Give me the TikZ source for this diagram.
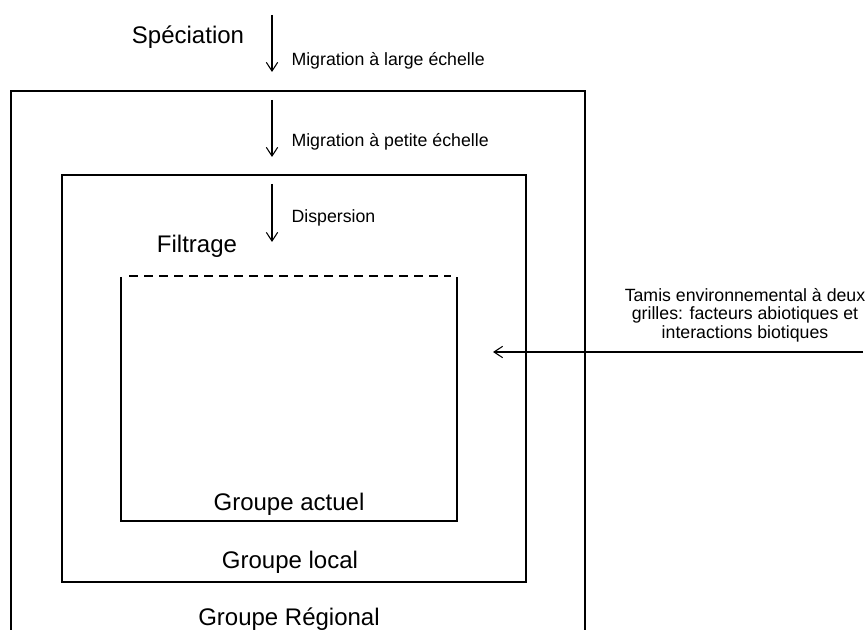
\documentclass[tikz,border=0pt]{standalone}
\usepackage{fontspec}
\setmainfont{Liberation Sans}
\usetikzlibrary{positioning,arrows.meta}

\begin{document}
\begin{tikzpicture}[x=0.75pt,y=-0.75pt,line width=0.8pt,
    flow/.style={-{Straight Barb[length=6.5pt,width=8.5pt]}},
    big/.style={font=\fontsize{18}{21}\selectfont,inner sep=0pt,anchor=base},
    small/.style={font=\fontsize{13.3}{14}\selectfont,inner sep=0pt,anchor=base west}]
      \useasboundingbox (0,0) rectangle (866,630);
      % boxes
      \draw (11,630) -- (11,91) -- (585,91) -- (585,630);
      \draw (62,175) rectangle (526,582);
      \draw (121,277) -- (121,521) -- (457,521) -- (457,277);
      \draw[dash pattern=on 6.5pt off 4.75pt] (129,276) -- (451,276);
      % arrows
      \coordinate (mla) at (272,15);
      \coordinate (mlb) at (272,72);
      \coordinate (mpa) at (272,100);
      \coordinate (mpb) at (272,157);
      \coordinate (dia) at (272,184);
      \coordinate (dib) at (272,242);
      \coordinate (tamR) at (863,352);
      \coordinate (tamL) at (493,352);
      \draw[flow] (mla) -- (mlb);
      \draw[flow] (mpa) -- (mpb);
      \draw[flow] (dia) -- (dib);
      \draw[flow] (tamR) -- (tamL);
      % labels
      \node[big] (spec) at (188,44) {Spéciation};
      \node[small] (mlarge) at (291,65.5) {Migration à large échelle};
      \node[small] (mpetite) at (291,147) {Migration à petite échelle};
      \node[small] (disp) at (291,223) {Dispersion};
      \node[big] (filt) at (197,253) {Filtrage};
      \node[big] (actuel) at (289,510) {Groupe actuel};
      \node[big] (local) at (290,568) {Groupe local};
      \node[big] (regional) at (289,625) {Groupe Régional};
      \node[font=\fontsize{13.3}{14}\selectfont,inner sep=0pt,align=center] (tamis) at (745,315)
        {Tamis environnemental à deux\\grilles: facteurs abiotiques et\\interactions biotiques};
\end{tikzpicture}
\end{document}
